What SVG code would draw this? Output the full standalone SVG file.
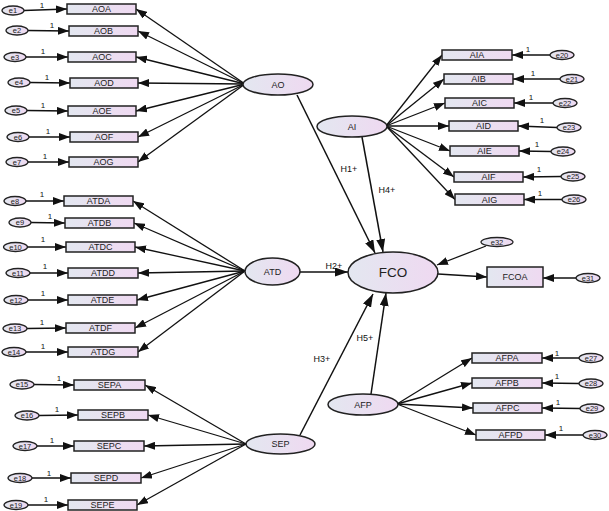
<svg xmlns="http://www.w3.org/2000/svg" width="609" height="511" viewBox="0 0 609 511">
<defs>
<linearGradient id="g" x1="0" y1="0" x2="1" y2="0">
<stop offset="0" stop-color="#e3e7f0"/>
<stop offset="1" stop-color="#efd9f1"/>
</linearGradient>
<marker id="ah" markerWidth="11" markerHeight="8" refX="11" refY="4" orient="auto" markerUnits="userSpaceOnUse"><path d="M0,0 L11,4 L0,8 z" fill="#111"/></marker>
<marker id="ahL" markerWidth="13" markerHeight="9" refX="13" refY="4.5" orient="auto" markerUnits="userSpaceOnUse"><path d="M0,0 L13,4.5 L0,9 z" fill="#111"/></marker>
<style>
.box{fill:url(#g);stroke:#222;stroke-width:1.5}
.lat{fill:url(#g);stroke:#222;stroke-width:1.5}
.err{fill:url(#g);stroke:#222;stroke-width:1.3}
.t{font-family:"Liberation Sans",Arial,sans-serif;font-size:9px;fill:#222;text-anchor:middle;dominant-baseline:central}
.te{font-family:"Liberation Sans",Arial,sans-serif;font-size:7.5px;fill:#222;text-anchor:middle;dominant-baseline:central}
.one{font-family:"Liberation Sans",Arial,sans-serif;font-size:8px;fill:#111;text-anchor:middle}
.h{font-family:"Liberation Sans",Arial,sans-serif;font-size:9px;fill:#111;text-anchor:middle}
.c{stroke:#111;stroke-width:1.3;fill:none;marker-end:url(#ah)}
.cl{stroke:#111;stroke-width:1.5;fill:none;marker-end:url(#ahL)}
</style>
</defs>
<g id="connectors">
<!-- AO loadings -->
<line class="c" x1="245" y1="84" x2="136" y2="9"/>
<line class="c" x1="245" y1="84" x2="138" y2="31"/>
<line class="c" x1="245" y1="84" x2="136" y2="57"/>
<line class="c" x1="245" y1="84" x2="138" y2="83"/>
<line class="c" x1="245" y1="84" x2="136" y2="111"/>
<line class="c" x1="245" y1="84" x2="138" y2="137"/>
<line class="c" x1="245" y1="84" x2="138" y2="162"/>
<!-- AO errors -->
<line class="c" x1="24" y1="10.5" x2="67" y2="9"/>
<line class="c" x1="28" y1="30.5" x2="69" y2="31"/>
<line class="c" x1="26" y1="57" x2="68" y2="57"/>
<line class="c" x1="30" y1="82.5" x2="70" y2="83"/>
<line class="c" x1="27" y1="110.5" x2="68" y2="111"/>
<line class="c" x1="29" y1="137" x2="70" y2="137"/>
<line class="c" x1="28" y1="162" x2="69" y2="162"/>
<!-- ATD loadings -->
<line class="c" x1="245" y1="271" x2="133" y2="201"/>
<line class="c" x1="245" y1="271" x2="134" y2="223"/>
<line class="c" x1="245" y1="271" x2="135" y2="247"/>
<line class="c" x1="245" y1="271" x2="138" y2="273"/>
<line class="c" x1="245" y1="271" x2="137" y2="300"/>
<line class="c" x1="245" y1="271" x2="135" y2="328"/>
<line class="c" x1="245" y1="271" x2="138" y2="352"/>
<!-- ATD errors -->
<line class="c" x1="26" y1="201" x2="64" y2="201"/>
<line class="c" x1="31" y1="222.5" x2="65" y2="223"/>
<line class="c" x1="27" y1="247" x2="66" y2="247"/>
<line class="c" x1="30" y1="273" x2="68" y2="273"/>
<line class="c" x1="28" y1="300" x2="68" y2="300"/>
<line class="c" x1="27" y1="328.5" x2="66" y2="328"/>
<line class="c" x1="26" y1="352" x2="68" y2="352"/>
<!-- SEP loadings -->
<line class="c" x1="246" y1="444" x2="145" y2="385"/>
<line class="c" x1="246" y1="444" x2="148" y2="415"/>
<line class="c" x1="246" y1="444" x2="144" y2="446"/>
<line class="c" x1="246" y1="444" x2="141" y2="478"/>
<line class="c" x1="246" y1="444" x2="137" y2="505"/>
<!-- SEP errors -->
<line class="c" x1="34" y1="384.5" x2="74" y2="385"/>
<line class="c" x1="39" y1="415.5" x2="78" y2="415"/>
<line class="c" x1="37" y1="446" x2="74" y2="446"/>
<line class="c" x1="32" y1="478" x2="71" y2="478"/>
<line class="c" x1="28" y1="505" x2="68" y2="505"/>
<!-- AI loadings -->
<line class="c" x1="386" y1="126" x2="442" y2="55"/>
<line class="c" x1="386" y1="126" x2="444" y2="79"/>
<line class="c" x1="386" y1="126" x2="445" y2="103"/>
<line class="c" x1="386" y1="126" x2="449" y2="126"/>
<line class="c" x1="386" y1="126" x2="450" y2="151"/>
<line class="c" x1="386" y1="126" x2="454" y2="177"/>
<line class="c" x1="386" y1="126" x2="455" y2="199.5"/>
<!-- AI errors -->
<line class="c" x1="550" y1="55" x2="512" y2="55"/>
<line class="c" x1="560" y1="79" x2="513" y2="79"/>
<line class="c" x1="553" y1="103" x2="514" y2="103"/>
<line class="c" x1="557" y1="127.5" x2="518" y2="126"/>
<line class="c" x1="551" y1="151.5" x2="519" y2="151"/>
<line class="c" x1="561" y1="176.5" x2="523" y2="177"/>
<line class="c" x1="562" y1="199.5" x2="524" y2="199.5"/>
<!-- AFP loadings -->
<line class="c" x1="397" y1="404" x2="472" y2="358"/>
<line class="c" x1="397" y1="404" x2="472" y2="383"/>
<line class="c" x1="397" y1="404" x2="473" y2="408"/>
<line class="c" x1="397" y1="404" x2="476" y2="435"/>
<!-- AFP errors -->
<line class="c" x1="579" y1="358" x2="542" y2="358"/>
<line class="c" x1="579" y1="383.5" x2="542" y2="383"/>
<line class="c" x1="580" y1="408.5" x2="542" y2="408"/>
<line class="c" x1="583" y1="435" x2="545" y2="435"/>
<!-- FCO -->
<line class="c" x1="438" y1="274" x2="487" y2="277"/>
<line class="c" x1="486" y1="246" x2="437" y2="265"/>
<line class="c" x1="576" y1="278" x2="543" y2="278"/>
<!-- hypotheses -->
<line class="cl" x1="297" y1="95" x2="375" y2="253"/>
<line class="cl" x1="362" y1="137" x2="383" y2="252"/>
<line class="cl" x1="300" y1="272" x2="348" y2="272"/>
<line class="cl" x1="300" y1="435" x2="373" y2="294"/>
<line class="cl" x1="371" y1="394" x2="386" y2="293"/>
</g>
<g id="labels">
<text class="h" x="349" y="172">H1+</text>
<text class="h" x="387" y="193">H4+</text>
<text class="h" x="334" y="269">H2+</text>
<text class="h" x="322" y="362">H3+</text>
<text class="h" x="365" y="341">H5+</text>
<text class="one" x="42" y="8">1</text>
<text class="one" x="52" y="28">1</text>
<text class="one" x="43" y="54">1</text>
<text class="one" x="47" y="80">1</text>
<text class="one" x="43" y="108">1</text>
<text class="one" x="48" y="134">1</text>
<text class="one" x="45" y="159">1</text>
<text class="one" x="42" y="197">1</text>
<text class="one" x="50" y="219">1</text>
<text class="one" x="43" y="242">1</text>
<text class="one" x="45" y="269">1</text>
<text class="one" x="43" y="296">1</text>
<text class="one" x="42" y="325">1</text>
<text class="one" x="43" y="349">1</text>
<text class="one" x="59" y="381">1</text>
<text class="one" x="57" y="412">1</text>
<text class="one" x="52" y="443">1</text>
<text class="one" x="49" y="476">1</text>
<text class="one" x="46" y="502">1</text>
<text class="one" x="528" y="52">1</text>
<text class="one" x="533" y="76">1</text>
<text class="one" x="531" y="100">1</text>
<text class="one" x="542" y="123">1</text>
<text class="one" x="537" y="147">1</text>
<text class="one" x="539" y="172">1</text>
<text class="one" x="540" y="196">1</text>
<text class="one" x="557" y="356">1</text>
<text class="one" x="557" y="379">1</text>
<text class="one" x="558" y="405">1</text>
<text class="one" x="561" y="431">1</text>
</g>
<g id="AO"><ellipse class="lat" cx="278" cy="84.5" rx="35" ry="10.5"/><text class="t" x="278" y="84.5">AO</text></g>
<g id="AI"><ellipse class="lat" cx="352" cy="126.5" rx="35" ry="10.5"/><text class="t" x="352" y="126.5">AI</text></g>
<g id="ATD"><ellipse class="lat" cx="272.5" cy="271.5" rx="27.5" ry="13.5"/><text class="t" x="272.5" y="271.5">ATD</text></g>
<g id="FCO"><ellipse class="lat" cx="393" cy="272.5" rx="45" ry="20.5"/><text class="t" x="393" y="272.5" style="font-size:13.5px">FCO</text></g>
<g id="AFP"><ellipse class="lat" cx="363" cy="404.5" rx="35" ry="10.5"/><text class="t" x="363" y="404.5">AFP</text></g>
<g id="SEP"><ellipse class="lat" cx="280.5" cy="444" rx="34.5" ry="10"/><text class="t" x="280.5" y="444">SEP</text></g>
<g id="AOA"><rect class="box" x="67" y="4" width="69" height="10"/><text class="t" x="101.5" y="9">AOA</text></g>
<g id="AOB"><rect class="box" x="69" y="26" width="69" height="10"/><text class="t" x="103.5" y="31">AOB</text></g>
<g id="AOC"><rect class="box" x="68" y="52" width="68" height="10"/><text class="t" x="102" y="57">AOC</text></g>
<g id="AOD"><rect class="box" x="70" y="78" width="68" height="10"/><text class="t" x="104" y="83">AOD</text></g>
<g id="AOE"><rect class="box" x="68" y="106" width="68" height="10"/><text class="t" x="102" y="111">AOE</text></g>
<g id="AOF"><rect class="box" x="70" y="132" width="68" height="10"/><text class="t" x="104" y="137">AOF</text></g>
<g id="AOG"><rect class="box" x="69" y="157" width="69" height="10"/><text class="t" x="103.5" y="162">AOG</text></g>
<g id="ATDA"><rect class="box" x="64" y="196" width="69" height="10"/><text class="t" x="98.5" y="201">ATDA</text></g>
<g id="ATDB"><rect class="box" x="65" y="218" width="69" height="10"/><text class="t" x="99.5" y="223">ATDB</text></g>
<g id="ATDC"><rect class="box" x="66" y="242" width="69" height="10"/><text class="t" x="100.5" y="247">ATDC</text></g>
<g id="ATDD"><rect class="box" x="68" y="268" width="70" height="10"/><text class="t" x="103" y="273">ATDD</text></g>
<g id="ATDE"><rect class="box" x="68" y="295" width="69" height="10"/><text class="t" x="102.5" y="300">ATDE</text></g>
<g id="ATDF"><rect class="box" x="66" y="323" width="69" height="10"/><text class="t" x="100.5" y="328">ATDF</text></g>
<g id="ATDG"><rect class="box" x="68" y="347" width="70" height="10"/><text class="t" x="103" y="352">ATDG</text></g>
<g id="SEPA"><rect class="box" x="74" y="380" width="71" height="10"/><text class="t" x="109.5" y="385">SEPA</text></g>
<g id="SEPB"><rect class="box" x="78" y="410" width="70" height="10"/><text class="t" x="113" y="415">SEPB</text></g>
<g id="SEPC"><rect class="box" x="74" y="441" width="70" height="10"/><text class="t" x="109" y="446">SEPC</text></g>
<g id="SEPD"><rect class="box" x="71" y="473" width="70" height="10"/><text class="t" x="106" y="478">SEPD</text></g>
<g id="SEPE"><rect class="box" x="68" y="500" width="69" height="10"/><text class="t" x="102.5" y="505">SEPE</text></g>
<g id="AIA"><rect class="box" x="442" y="50" width="70" height="10"/><text class="t" x="477" y="55">AIA</text></g>
<g id="AIB"><rect class="box" x="444" y="74" width="69" height="10"/><text class="t" x="478.5" y="79">AIB</text></g>
<g id="AIC"><rect class="box" x="445" y="98" width="69" height="10"/><text class="t" x="479.5" y="103">AIC</text></g>
<g id="AID"><rect class="box" x="449" y="121" width="69" height="10"/><text class="t" x="483.5" y="126">AID</text></g>
<g id="AIE"><rect class="box" x="450" y="146" width="69" height="10"/><text class="t" x="484.5" y="151">AIE</text></g>
<g id="AIF"><rect class="box" x="454" y="172" width="69" height="10"/><text class="t" x="488.5" y="177">AIF</text></g>
<g id="AIG"><rect class="box" x="455" y="194" width="69" height="11"/><text class="t" x="489.5" y="199.5">AIG</text></g>
<g id="FCOA"><rect class="box" x="487" y="267" width="56" height="20"/><text class="t" x="515" y="277">FCOA</text></g>
<g id="AFPA"><rect class="box" x="472" y="353" width="70" height="10"/><text class="t" x="507" y="358">AFPA</text></g>
<g id="AFPB"><rect class="box" x="472" y="378" width="70" height="10"/><text class="t" x="507" y="383">AFPB</text></g>
<g id="AFPC"><rect class="box" x="473" y="403" width="69" height="10"/><text class="t" x="507.5" y="408">AFPC</text></g>
<g id="AFPD"><rect class="box" x="476" y="430" width="69" height="10"/><text class="t" x="510.5" y="435">AFPD</text></g>
<g id="e1"><ellipse class="err" cx="13" cy="10.5" rx="11" ry="4.5"/><text class="te" x="13" y="10.5">e1</text></g>
<g id="e2"><ellipse class="err" cx="17" cy="30.5" rx="11" ry="4.5"/><text class="te" x="17" y="30.5">e2</text></g>
<g id="e3"><ellipse class="err" cx="15" cy="57" rx="11" ry="4.5"/><text class="te" x="15" y="57">e3</text></g>
<g id="e4"><ellipse class="err" cx="19" cy="82.5" rx="11" ry="4.5"/><text class="te" x="19" y="82.5">e4</text></g>
<g id="e5"><ellipse class="err" cx="16" cy="110.5" rx="11" ry="4.5"/><text class="te" x="16" y="110.5">e5</text></g>
<g id="e6"><ellipse class="err" cx="18" cy="137" rx="11" ry="4.5"/><text class="te" x="18" y="137">e6</text></g>
<g id="e7"><ellipse class="err" cx="17" cy="162" rx="11" ry="4.5"/><text class="te" x="17" y="162">e7</text></g>
<g id="e8"><ellipse class="err" cx="15" cy="201" rx="11" ry="4.5"/><text class="te" x="15" y="201">e8</text></g>
<g id="e9"><ellipse class="err" cx="20" cy="222.5" rx="11" ry="4.5"/><text class="te" x="20" y="222.5">e9</text></g>
<g id="e10"><ellipse class="err" cx="15.5" cy="247" rx="12" ry="4.5"/><text class="te" x="15.5" y="247">e10</text></g>
<g id="e11"><ellipse class="err" cx="18" cy="273" rx="12" ry="4.5"/><text class="te" x="18" y="273">e11</text></g>
<g id="e12"><ellipse class="err" cx="16" cy="300" rx="12" ry="4.5"/><text class="te" x="16" y="300">e12</text></g>
<g id="e13"><ellipse class="err" cx="15" cy="328.5" rx="12" ry="4.5"/><text class="te" x="15" y="328.5">e13</text></g>
<g id="e14"><ellipse class="err" cx="14" cy="352" rx="12" ry="4.5"/><text class="te" x="14" y="352">e14</text></g>
<g id="e15"><ellipse class="err" cx="22" cy="384.5" rx="12" ry="4.5"/><text class="te" x="22" y="384.5">e15</text></g>
<g id="e16"><ellipse class="err" cx="27" cy="415.5" rx="12" ry="4.5"/><text class="te" x="27" y="415.5">e16</text></g>
<g id="e17"><ellipse class="err" cx="25" cy="446" rx="12" ry="4.5"/><text class="te" x="25" y="446">e17</text></g>
<g id="e18"><ellipse class="err" cx="20" cy="478" rx="12" ry="4.5"/><text class="te" x="20" y="478">e18</text></g>
<g id="e19"><ellipse class="err" cx="16" cy="505" rx="12" ry="4.5"/><text class="te" x="16" y="505">e19</text></g>
<g id="e20"><ellipse class="err" cx="562" cy="55" rx="12" ry="4.5"/><text class="te" x="562" y="55">e20</text></g>
<g id="e21"><ellipse class="err" cx="572" cy="79" rx="12" ry="4.5"/><text class="te" x="572" y="79">e21</text></g>
<g id="e22"><ellipse class="err" cx="565" cy="103" rx="12" ry="4.5"/><text class="te" x="565" y="103">e22</text></g>
<g id="e23"><ellipse class="err" cx="569" cy="127.5" rx="12" ry="4.5"/><text class="te" x="569" y="127.5">e23</text></g>
<g id="e24"><ellipse class="err" cx="563" cy="151.5" rx="12" ry="4.5"/><text class="te" x="563" y="151.5">e24</text></g>
<g id="e25"><ellipse class="err" cx="573" cy="176.5" rx="12" ry="4.5"/><text class="te" x="573" y="176.5">e25</text></g>
<g id="e26"><ellipse class="err" cx="574" cy="199.5" rx="12" ry="4.5"/><text class="te" x="574" y="199.5">e26</text></g>
<g id="e27"><ellipse class="err" cx="591" cy="358" rx="12" ry="4.5"/><text class="te" x="591" y="358">e27</text></g>
<g id="e28"><ellipse class="err" cx="591" cy="383.5" rx="12" ry="4.5"/><text class="te" x="591" y="383.5">e28</text></g>
<g id="e29"><ellipse class="err" cx="592" cy="408.5" rx="12" ry="4.5"/><text class="te" x="592" y="408.5">e29</text></g>
<g id="e30"><ellipse class="err" cx="595" cy="435" rx="12" ry="4.5"/><text class="te" x="595" y="435">e30</text></g>
<g id="e31"><ellipse class="err" cx="588" cy="278" rx="12" ry="4.5"/><text class="te" x="588" y="278">e31</text></g>
<g id="e32"><ellipse class="err" cx="497" cy="242" rx="16" ry="4.5"/><text class="te" x="497" y="242">e32</text></g>
</svg>
